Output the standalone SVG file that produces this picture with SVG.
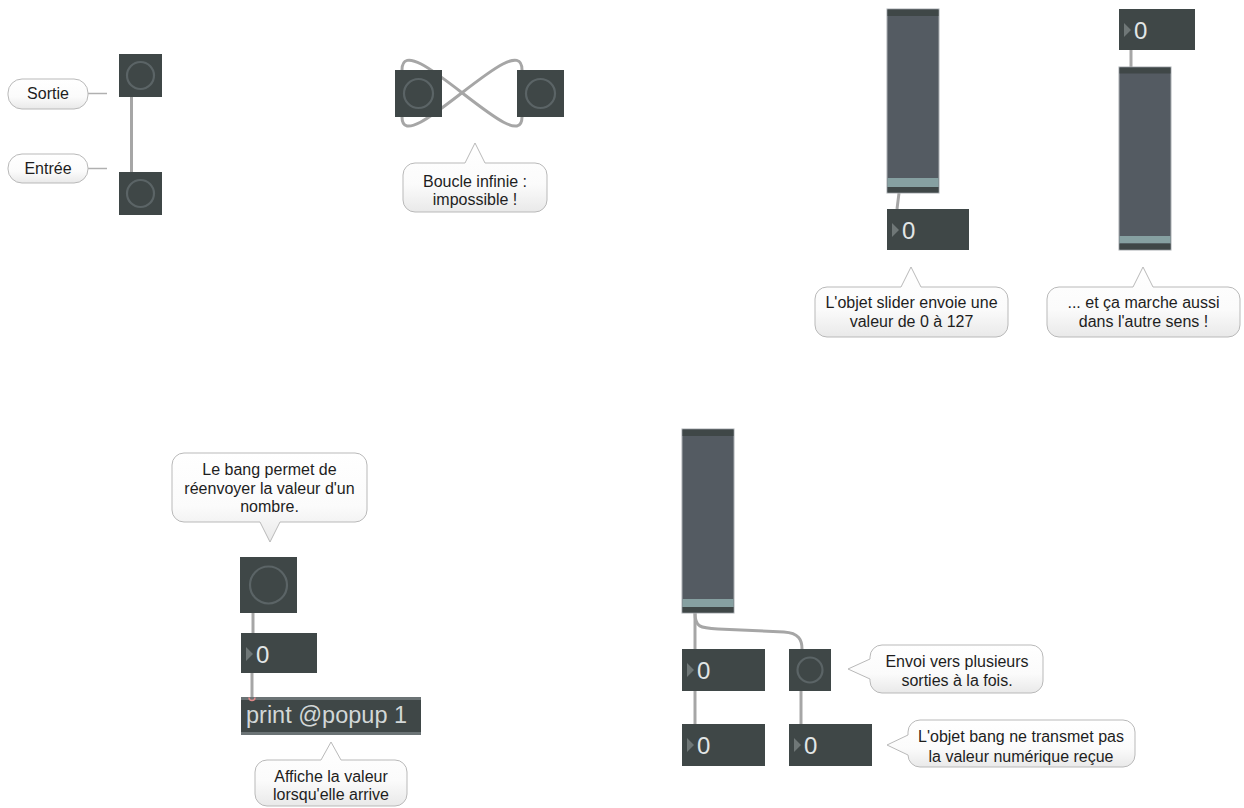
<svg xmlns="http://www.w3.org/2000/svg" width="1244" height="808" viewBox="0 0 1244 808">
<defs>
<linearGradient id="cg" x1="0" y1="0" x2="0" y2="1">
<stop offset="0" stop-color="#ffffff"/>
<stop offset="0.6" stop-color="#fbfbfb"/>
<stop offset="1" stop-color="#e9e9e9"/>
</linearGradient>
</defs>
<style>
.cord{fill:none;stroke:#a6a6a6;stroke-width:3}
.bub{fill:url(#cg);stroke:#b9b9b9;stroke-width:1}
.tail{stroke:#b0b0b0;stroke-width:1.5}
.ct{font-family:"Liberation Sans",Arial,sans-serif;font-size:16px;fill:#1e1e1e;text-anchor:middle}
.box{fill:#3f4747}
.bc{fill:none;stroke:#5b6466;stroke-width:2.2}
.tri{fill:#6f7777}
.num{font-family:"Liberation Sans",Arial,sans-serif;font-size:24px;fill:#e2e6e6}
.sb{fill:#545b62;stroke:#a9aeb1;stroke-width:1}
.band{fill:#3f4747}
.knob{fill:#86a0a1}
.pt{font-family:"Liberation Sans",Arial,sans-serif;font-size:23.5px;fill:#d2d7d7}
.strip{fill:#6b7375}
</style>
<rect width="1244" height="808" fill="#ffffff"/>

<g id="connectors">
<path class="cord" d="M131.5 97 L131.5 172"/>
<path class="cord" d="M402 117 C402 162 522 23 522 70"/>
<path class="cord" d="M522 117 C522 162 402 23 402 70"/>
<path class="cord" d="M899 193 L897 209"/>
<path class="cord" d="M1131 50 L1131 67"/>
<path class="cord" d="M253 613 L253 633"/>
<path class="cord" d="M252 673 L252 697"/>
<path class="cord" d="M695 613 L695 649"/>
<path class="cord" d="M695 613 C695 627 700 628 718 629 L784 632 C799 633 802 640 802 649"/>
<path class="cord" d="M695 691 L695 724"/>
<path class="cord" d="M801 691 L801 724"/>
</g>

<g id="comment-sortie">
<line class="tail" x1="88" y1="93.5" x2="107" y2="93.5"/>
<rect class="bub" x="8" y="79" width="80" height="30" rx="14"/>
<text class="ct" x="48" y="99">Sortie</text>
</g>
<g id="comment-entree">
<line class="tail" x1="88" y1="168.5" x2="107" y2="168.5"/>
<rect class="bub" x="8" y="154" width="80" height="29" rx="14"/>
<text class="ct" x="48" y="174">Entrée</text>
</g>
<g id="bang-top">
<rect class="box" x="119" y="54" width="43" height="43"/>
<circle class="bc" cx="140.5" cy="75.5" r="13.5"/>
</g>
<g id="bang-bottom">
<rect class="box" x="119" y="172" width="43" height="43"/>
<circle class="bc" cx="140.5" cy="193.5" r="13.5"/>
</g>

<g id="bang-loop-left">
<rect class="box" x="395" y="70" width="47" height="47"/>
<circle class="bc" cx="418.5" cy="93.5" r="14.5"/>
</g>
<g id="bang-loop-right">
<rect class="box" x="517" y="70" width="47" height="47"/>
<circle class="bc" cx="540.5" cy="93.5" r="14.5"/>
</g>
<g id="comment-boucle">
<path class="bub" d="M415 163 L465 163 L475 143 L485 163 L535 163 A12 12 0 0 1 547 175 L547 200 A12 12 0 0 1 535 212 L415 212 A12 12 0 0 1 403 200 L403 175 A12 12 0 0 1 415 163 Z"/>
<text class="ct" x="475" y="187">Boucle infinie :</text>
<text class="ct" x="475" y="205">impossible !</text>
</g>

<g id="slider-1">
<rect class="sb" x="887" y="9" width="52" height="184"/>
<rect class="band" x="887.5" y="9.5" width="51" height="6.5"/>
<rect class="knob" x="887.5" y="178" width="51" height="9"/>
<rect class="band" x="887.5" y="187" width="51" height="5.5"/>
</g>
<g id="number-1">
<rect class="box" x="887" y="209" width="82" height="41"/>
<polygon class="tri" points="892,223 892,237 899,230"/>
<text class="num" x="902" y="239">0</text>
</g>
<g id="comment-slider">
<path class="bub" d="M827 287 L901 287 L911 267 L921 287 L996 287 A12 12 0 0 1 1008 299 L1008 325 A12 12 0 0 1 996 337 L827 337 A12 12 0 0 1 815 325 L815 299 A12 12 0 0 1 827 287 Z"/>
<text class="ct" x="911.5" y="308">L'objet slider envoie une</text>
<text class="ct" x="911.5" y="327">valeur de 0 à 127</text>
</g>

<g id="number-2">
<rect class="box" x="1119" y="9" width="76" height="41"/>
<polygon class="tri" points="1124,23 1124,37 1131,30"/>
<text class="num" x="1134" y="39">0</text>
</g>
<g id="slider-2">
<rect class="sb" x="1119" y="67" width="52" height="183"/>
<rect class="band" x="1119.5" y="67.5" width="51" height="6"/>
<rect class="knob" x="1119.5" y="236" width="51" height="7.5"/>
<rect class="band" x="1119.5" y="243.5" width="51" height="6"/>
</g>
<g id="comment-sens">
<path class="bub" d="M1059 287 L1133 287 L1143 267 L1153 287 L1228 287 A12 12 0 0 1 1240 299 L1240 325 A12 12 0 0 1 1228 337 L1059 337 A12 12 0 0 1 1047 325 L1047 299 A12 12 0 0 1 1059 287 Z"/>
<text class="ct" x="1143.5" y="308">... et ça marche aussi</text>
<text class="ct" x="1143.5" y="327">dans l'autre sens !</text>
</g>

<g id="comment-bang">
<path class="bub" d="M184 453 L355 453 A12 12 0 0 1 367 465 L367 510 A12 12 0 0 1 355 522 L280 522 L270 542 L260 522 L184 522 A12 12 0 0 1 172 510 L172 465 A12 12 0 0 1 184 453 Z"/>
<text class="ct" x="269.5" y="475">Le bang permet de</text>
<text class="ct" x="269.5" y="493.5">réenvoyer la valeur d'un</text>
<text class="ct" x="269.5" y="512">nombre.</text>
</g>
<g id="bang-3">
<rect class="box" x="240" y="557" width="57" height="56"/>
<circle class="bc" cx="268.5" cy="585" r="18.5" stroke-width="2.8"/>
</g>
<g id="number-3">
<rect class="box" x="241" y="633" width="76" height="40"/>
<polygon class="tri" points="246,647 246,661 253,654"/>
<text class="num" x="256" y="663">0</text>
</g>
<g id="print">
<rect class="box" x="241" y="697" width="180" height="38"/>
<rect class="strip" x="241" y="697" width="180" height="3"/>
<rect class="strip" x="241" y="732" width="180" height="3"/>
<path d="M249 697.5 A3 3 0 0 0 255 697.5" fill="none" stroke="#e08a8a" stroke-width="1.5"/>
<text class="pt" x="246" y="723">print @popup 1</text>
</g>
<g id="comment-affiche">
<path class="bub" d="M267 760 L321 760 L331 742 L341 760 L395 760 A12 12 0 0 1 407 772 L407 794 A12 12 0 0 1 395 806 L267 806 A12 12 0 0 1 255 794 L255 772 A12 12 0 0 1 267 760 Z"/>
<text class="ct" x="331" y="782">Affiche la valeur</text>
<text class="ct" x="331" y="800">lorsqu'elle arrive</text>
</g>

<g id="slider-3">
<rect class="sb" x="682" y="429" width="52" height="184"/>
<rect class="band" x="682.5" y="429.5" width="51" height="6.5"/>
<rect class="knob" x="682.5" y="599" width="51" height="8"/>
<rect class="band" x="682.5" y="607" width="51" height="5.5"/>
</g>
<g id="number-4">
<rect class="box" x="682" y="649" width="83" height="42"/>
<polygon class="tri" points="687,663 687,677 694,670"/>
<text class="num" x="697" y="679">0</text>
</g>
<g id="bang-4">
<rect class="box" x="789" y="649" width="42" height="42"/>
<circle class="bc" cx="810" cy="670" r="12.5"/>
</g>
<g id="number-5">
<rect class="box" x="682" y="724" width="83" height="42"/>
<polygon class="tri" points="687,738 687,752 694,745"/>
<text class="num" x="697" y="754">0</text>
</g>
<g id="number-6">
<rect class="box" x="789" y="724" width="83" height="42"/>
<polygon class="tri" points="794,738 794,752 801,745"/>
<text class="num" x="804" y="754">0</text>
</g>
<g id="comment-envoi">
<path class="bub" d="M882 645 L1031 645 A12 12 0 0 1 1043 657 L1043 681 A12 12 0 0 1 1031 693 L882 693 A12 12 0 0 1 870 681 L870 679 L848 669 L870 659 L870 657 A12 12 0 0 1 882 645 Z"/>
<text class="ct" x="957" y="667">Envoi vers plusieurs</text>
<text class="ct" x="957" y="686">sorties à la fois.</text>
</g>
<g id="comment-transmet">
<path class="bub" d="M920 720 L1123 720 A12 12 0 0 1 1135 732 L1135 755 A12 12 0 0 1 1123 767 L920 767 A12 12 0 0 1 908 755 L887 745 L908 735 L908 732 A12 12 0 0 1 920 720 Z"/>
<text class="ct" x="1021" y="742">L'objet bang ne transmet pas</text>
<text class="ct" x="1021" y="762">la valeur numérique reçue</text>
</g>
</svg>
